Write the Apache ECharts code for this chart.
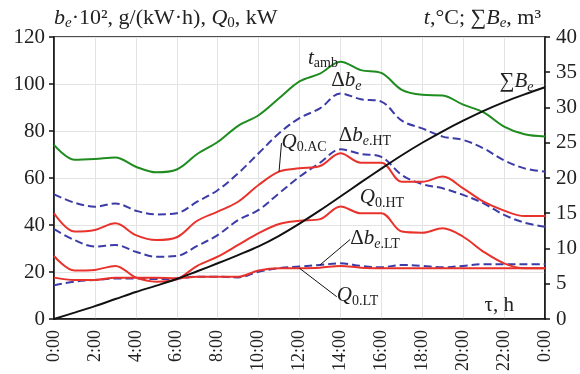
<!DOCTYPE html>
<html>
<head>
<meta charset="utf-8">
<script src="https://cdn.jsdelivr.net/npm/echarts@6/dist/echarts.min.js"></script>
<style>html,body{margin:0;padding:0;background:#fff}#c{width:580px;height:374px}</style>
</head>
<body>
<div id="c"></div>
<script>
// ---- data (hourly, 0:00 .. 24:00) ----
const hours = [0,1,2,3,4,5,6,7,8,9,10,11,12,13,14,15,16,17,18,19,20,21,22,23,24];
const xTickLabels = ['0:00','2:00','4:00','6:00','8:00','10:00','12:00','14:00','16:00','18:00','20:00','22:00','0:00'];
// right axis: t, °C
const tAmb = [24.7,22.6,22.7,22.9,21.6,20.8,21.2,23.4,25.1,27.4,28.9,31.3,33.7,34.8,36.5,35.3,34.9,32.5,31.8,31.7,30.4,29.3,27.3,26.2,25.9];
// right axis: ΣBe, m³
const sumBe = [0,0.9,1.83,2.83,3.83,4.73,5.67,6.77,7.9,9.07,10.3,11.8,13.53,15.4,17.37,19.37,21.33,23.23,25,26.63,28.13,29.53,30.77,31.87,32.87];
// left axis: be·10², g/(kW·h)
const deltaBe   = [53,49.5,47.8,49.2,46.1,44.5,45,49.9,54.8,62,70.5,79,85.5,89.6,96,93.5,92.5,84.4,81.1,77.6,76.2,72.6,67.5,64.1,62.7];
const deltaBeHT = [38.2,33.6,30.8,31.5,28.6,26.5,26.8,31.1,35.7,42.1,46.4,53.5,60.5,66.5,72.2,70.2,69,61.3,57.4,55.6,52.8,49.2,44.3,41,39.3];
const deltaBeLT = [14.3,15.9,16.6,17.2,17.2,17,17.2,18,18,17.7,20.1,21.6,22.3,23,23.7,22.6,22,23,22.6,22,22.6,23.3,23.3,23.3,23.3];
// left axis: Q0, kW
const q0AC = [45,37.2,37.9,40.7,35.7,33.6,34.8,41.8,45.7,49.9,57,62.7,64.1,65.1,70.5,66.5,66.5,58.4,58.4,60.6,55.6,49.9,46.1,43.8,43.8];
const q0HT = [26.8,20.6,20.9,22.6,17.7,15.9,16.9,22.6,26.5,31.5,36.5,40.4,41.8,42.5,47.9,45,45,37.2,36.7,38.6,35,28.6,23.7,21.6,21.6];
const q0LT = [17.6,16.6,16.6,17.6,17.6,17.6,17.3,18,18,18,20.6,21.6,21.6,21.8,22.6,21.8,21.6,21.6,21.6,21.6,21.6,21.6,21.6,21.6,21.6];

const F = '"Liberation Serif","Times New Roman",serif';
const TXT = '#222';
function rich(size){
  const sub = Math.round(size*0.66);
  return {
    n:{fontFamily:F,fontSize:size,color:TXT,lineHeight:size+4},
    i:{fontFamily:F,fontSize:size,fontStyle:'italic',color:TXT,lineHeight:size+4},
    s:{fontFamily:F,fontSize:sub,color:TXT,lineHeight:9,verticalAlign:'bottom'},
    si:{fontFamily:F,fontSize:sub,fontStyle:'italic',color:TXT,lineHeight:9,verticalAlign:'bottom'}
  };
}

function mk(name, vals, yIdx, color, dashed, lab){
  const data = hours.map((h,i)=>{
    if (lab && i===lab.idx){
      return {value:[h,vals[i]],
        label:{show:true,formatter:lab.fmt,rich:rich(21),position:lab.pos,distance:lab.dist||3,offset:lab.offset||[0,0]},
        labelLine:{show:!!lab.line,lineStyle:{color:'#111',width:1}}};
    }
    return [h,vals[i]];
  });
  const s = {
    name, type:'line', yAxisIndex:yIdx, data, smooth:0.35,
    showSymbol:true, symbol:'circle', symbolSize:0.01, silent:true,
    lineStyle:{color, width:2, type: dashed ? [8,4] : 'solid'},
    itemStyle:{color},
    label:{show:false},
    emphasis:{disabled:true}
  };
  if (lab && lab.layout) { s.labelLayout = lab.layout; s.labelLine = {show:true,lineStyle:{color:'#111',width:1}}; }
  return s;
}

const GREEN='#1f8c1f', RED='#e8322b', BLUE='#3c3ca8', BLACK='#111';

const option = {
  animation:false,
  grid:{left:54,right:34,top:37,bottom:55,show:true,borderColor:'#111',borderWidth:1.5},
  xAxis:{
    type:'value',min:0,max:24,interval:2,
    axisLine:{lineStyle:{color:'#111',width:1.5}},
    axisTick:{show:false},
    splitLine:{show:true,lineStyle:{color:'#e3e3e3',width:1}},
    axisLabel:{rotate:90,margin:11,fontFamily:F,fontSize:18,color:TXT,
      formatter:(v)=>xTickLabels[Math.round(v/2)]},
    name:'τ, h',nameLocation:'end',nameGap:-31,
    nameTextStyle:{align:'right',verticalAlign:'bottom',fontFamily:F,fontSize:21,color:TXT,padding:[0,0,3,0]}
  },
  yAxis:[{
    type:'value',min:0,max:120,interval:20,position:'left',
    axisLine:{show:true,lineStyle:{color:'#111',width:1.5}},
    axisTick:{show:true,length:5,lineStyle:{color:'#111',width:1.5}},
    splitLine:{show:true,lineStyle:{color:'#e3e3e3',width:1}},
    axisLabel:{margin:9,fontFamily:F,fontSize:21,color:TXT},
    name:'{i|b}{si|e}{n|·10², g/(kW·h), }{i|Q}{s|0}{n|, kW}',
    nameLocation:'end',nameGap:6,
    nameTextStyle:{align:'left',verticalAlign:'bottom',rich:rich(22)}
  },{
    type:'value',min:0,max:40,interval:5,position:'right',
    axisLine:{show:true,lineStyle:{color:'#111',width:1.5}},
    axisTick:{show:true,length:5,lineStyle:{color:'#111',width:1.5}},
    splitLine:{show:false},
    axisLabel:{margin:11,fontFamily:F,fontSize:21,color:TXT},
    name:'{i|t}{n|,°C; ∑}{i|B}{si|e}{n|, m³}',
    nameLocation:'end',nameGap:6,
    nameTextStyle:{align:'right',verticalAlign:'bottom',padding:[0,4,0,0],rich:rich(22)}
  }],
  series:[
    mk('tamb', tAmb, 1, GREEN, false, {idx:13,fmt:'{i|t}{s|amb}',pos:'top',dist:3,offset:[3,0]}),
    mk('dbe', deltaBe, 0, BLUE, true, {idx:14,fmt:'{n|Δ}{i|b}{si|e}',pos:'top',dist:0,offset:[6,3]}),
    mk('dbeHT', deltaBeHT, 0, BLUE, true, {idx:15,fmt:'{n|Δ}{i|b}{si|e}{s|.HT}',pos:'top',dist:3,offset:[4,-3]}),
    mk('dbeLT', deltaBeLT, 0, BLUE, true, {idx:13,fmt:'{n|Δ}{i|b}{si|e}{s|.LT}',pos:'top',dist:3,line:true,layout:{dx:55,dy:-11}}),
    mk('q0AC', q0AC, 0, RED, false, {idx:11,fmt:'{i|Q}{s|0.AC}',pos:'top',dist:5,line:true,layout:{dx:25,dy:-12}}),
    mk('q0HT', q0HT, 0, RED, false, {idx:15,fmt:'{i|Q}{s|0.HT}',pos:'top',dist:3,offset:[21,0]}),
    mk('q0LT', q0LT, 0, RED, false, {idx:12,fmt:'{i|Q}{s|0.LT}',pos:'bottom',dist:5,line:true,layout:{dx:58,dy:10}}),
    mk('sumBe', sumBe, 1, BLACK, false, {idx:23,fmt:'{n|∑}{i|B}{si|e}',pos:'top',dist:3,offset:[-8,3]})
  ]
};
const chart = echarts.init(document.getElementById('c'), null, {renderer:'canvas'});
chart.setOption(option);
</script>
</body>
</html>
